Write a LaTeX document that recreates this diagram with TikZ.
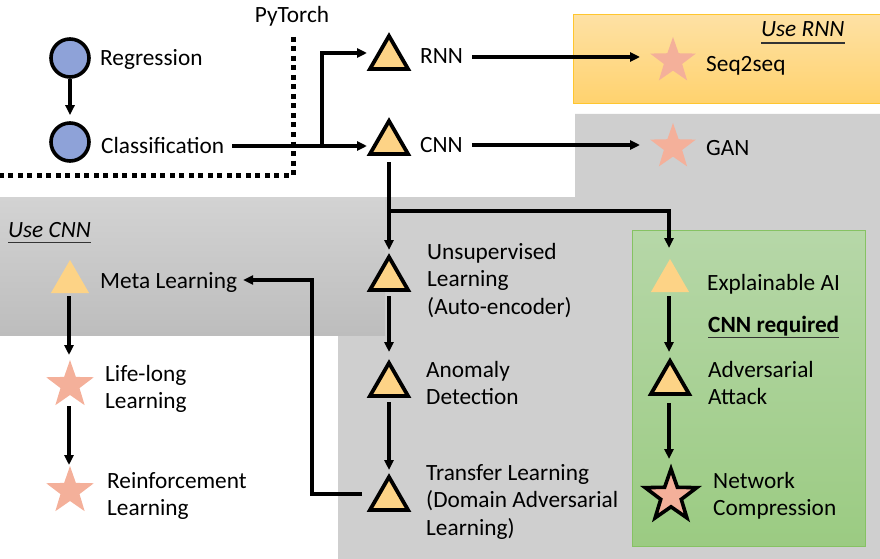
\documentclass[tikz,border=0pt]{standalone}
\usepackage{fontspec}
\setmainfont{Carlito}
\usetikzlibrary{shapes.geometric,arrows.meta,calc}
\definecolor{grayA}{HTML}{CFCFCF}
\definecolor{grayTop}{HTML}{D3D3D3}
\definecolor{grayBot}{HTML}{BDBDBD}
\definecolor{yelTop}{HTML}{FEE1A4}
\definecolor{yelBot}{HTML}{FFD26E}
\definecolor{yelLine}{HTML}{FFC62E}
\definecolor{grnTop}{HTML}{B6D7A8}
\definecolor{grnBot}{HTML}{9BCB82}
\definecolor{grnLine}{HTML}{86C263}
\definecolor{triFill}{HTML}{FDD386}
\definecolor{starFill}{HTML}{F4B09A}
\definecolor{circFill}{HTML}{8EA2D8}
\begin{document}
\begin{tikzpicture}[x=1pt,y=-1pt,
  txt/.style={anchor=base west, inner sep=0pt, font=\fontsize{23.3}{27.7}\selectfont},
  mtxt/.style={txt, text width=250pt, align=flush left},
  tribox/.style={regular polygon, regular polygon sides=3, minimum size=44pt, inner sep=0pt, fill=triFill, draw=black, line width=3.8pt, line join=miter},
  triplain/.style={regular polygon, regular polygon sides=3, minimum size=44pt, inner sep=0pt, fill=triFill},
  starplain/.style={star, star points=5, star point ratio=2.5, minimum size=48pt, inner sep=0pt, fill=starFill},
  circbox/.style={circle, minimum size=38pt, inner sep=0pt, fill=circFill, draw=black, line width=3.6pt},
  arr/.style={line width=3.2pt, -{Triangle[length=10pt,width=9pt]}},
  uline/.style={line width=1.3pt, black!80},
]
\useasboundingbox (0,0) rectangle (880,559);
% backgrounds
\fill[grayA] (338,197) -- (575,197) -- (575,114) -- (880,114) -- (880,559) -- (338,559) -- cycle;
\shade[top color=grayTop, bottom color=grayBot] (0,197) rectangle (385,335);
\shade[top color=yelTop, bottom color=yelBot] (573,15) rectangle (882,104);
\draw[yelLine, line width=1pt] (882,15) -- (573,15) -- (573,104) -- (882,104);
\shade[top color=grnTop, bottom color=grnBot] (632,230) rectangle (865,546);
\draw[grnLine, line width=1pt] (632,230) rectangle (865,546);
% dotted separator
\draw[line width=5pt, dash pattern=on 5pt off 4.5pt] (293,37) -- (293,175) -- (0,175);
\node[txt, anchor=base] (pyt) at (292,23) {PyTorch};
% shapes
\node[circbox] (reg) at (70,58) {};
\node[circbox] (cls) at (70,142) {};
\node[tribox] (rnn) at (389,58) {};
\node[tribox] (cnn) at (389,143) {};
\node[tribox] (uns) at (389,279) {};
\node[tribox] (ano) at (389,385) {};
\node[tribox] (tra) at (389,499) {};
\node[tribox] (adv) at (670,383) {};
\node[triplain] (meta) at (70,282) {};
\node[triplain] (expl) at (670,281) {};
\node[starplain] (seq) at (673,61) {};
\node[starplain] (gan) at (673,147) {};
\node[starplain, minimum size=50pt] (life) at (70,385) {};
\node[starplain, minimum size=50pt] (reinf) at (70,491) {};
\node[starplain, minimum size=54pt, draw=black, line width=3.6pt] (net) at (671,496) {};
% texts
\node[txt] (regtxt) at (100,66) {Regression};
\node[txt] (clstxt) at (101,153) {Classification};
\node[txt] (rnntxt) at (420,64) {RNN};
\node[txt] (cnntxt) at (420,152) {CNN};
\node[txt] (seqtxt) at (706,72) {Seq2seq};
\node[txt] (gantxt) at (706,155) {GAN};
\node[txt] (usernn) at (761,37) {\itshape Use RNN};
\draw[uline] ($(usernn.base west)+(0,6)$) -- ($(usernn.base east)+(0,6)$);
\node[txt] (usecnn) at (8,237) {\itshape Use CNN};
\draw[uline] ($(usecnn.base west)+(0,5.5)$) -- ($(usecnn.base east)+(0,5.5)$);
\node[txt] (metatxt) at (100,288) {Meta Learning};
\node[mtxt] (lifetxt) at (105,381) {Life-long\\Learning};
\node[mtxt] (reinftxt) at (107,488) {Reinforcement\\Learning};
\node[mtxt] (unstxt) at (427,259) {Unsupervised\\Learning\\(Auto-encoder)};
\node[mtxt] (anotxt) at (426,377) {Anomaly\\Detection};
\node[mtxt] (tratxt) at (426,480) {Transfer Learning\\(Domain Adversarial\\Learning)};
\node[txt] (expltxt) at (707,290) {Explainable AI};
\node[txt] (cnnreq) at (708,332) {\bfseries CNN required};
\draw[uline] ($(cnnreq.base west)+(0,5.5)$) -- ($(cnnreq.base east)+(0,5.5)$);
\node[mtxt] (advtxt) at (708,377) {Adversarial\\Attack};
\node[mtxt] (nettxt) at (713,488) {Network\\Compression};
% connectors
\draw[arr, shorten >=6pt] (reg) -- (cls);
\draw[arr] ($(clstxt.base east)+(8,-7)$) -- ($(cnn.center)+(-22,3)$);
\coordinate (br) at (322,146);
\draw[arr] (br) |- ($(rnn.center)+(-22,-5)$);
\draw[arr] ($(rnntxt.base east)+(9,-7)$) -- ($(seq.center)+(-33,-4)$);
\draw[arr] ($(cnntxt.base east)+(9,-7)$) -- ($(gan.center)+(-33,-2)$);
\draw[arr] ($(cnn.center)+(0,19)$) -- ($(uns.center)+(0,-29)$);
\coordinate (bd) at (389,211);
\draw[arr] (bd) -| ($(expl.center)+(-1,-33)$);
\draw[arr] ($(uns.center)+(0,17)$) -- ($(ano.center)+(0,-33)$);
\draw[arr] ($(ano.center)+(0,17)$) -- ($(tra.center)+(0,-29)$);
\draw[arr] ($(tra.center)+(-27,-5)$) -- ++(-50,0) |- ($(metatxt.base east)+(6,-8)$);
\draw[arr] ($(meta.center)+(-1,14)$) -- ($(life.center)+(-1,-30)$);
\draw[arr] ($(life.center)+(-1,21)$) -- ($(reinf.center)+(-1,-26)$);
\draw[arr] ($(expl.center)+(-1,15)$) -- ($(adv.center)+(-1,-31)$);
\draw[arr] ($(adv.center)+(-1,20)$) -- ($(net.center)+(-2,-37)$);
\end{tikzpicture}
\end{document}
